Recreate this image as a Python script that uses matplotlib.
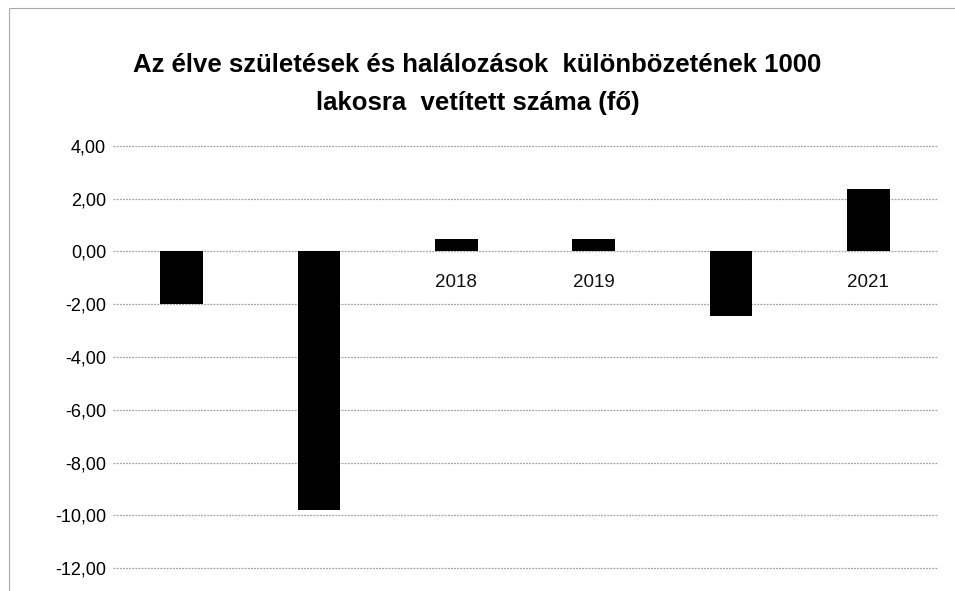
import matplotlib
matplotlib.use("Agg")
import matplotlib.pyplot as plt
from matplotlib.patches import Rectangle

years = ["2016", "2017", "2018", "2019", "2020", "2021"]
values = [-1.98, -9.8, 0.46, 0.46, -2.43, 2.35]
yticks = [4, 2, 0, -2, -4, -6, -8, -10, -12]
title = "Az élve születések és halálozások  különbözetének 1000\nlakosra  vetített száma (fő)"

fam = ["Liberation Sans", "DejaVu Sans"]

fig = plt.figure(figsize=(9.55, 5.91), dpi=100)
ax = fig.add_axes([0.1183, 0.0389, 0.8628, 0.7141])

x = list(range(len(years)))
ax.bar(x, values, width=0.31, color="black", zorder=3)
for xi, lab in zip(x, years):
    ax.text(xi, -1.18, lab, ha="center", va="center", fontsize=13.5,
            family=fam, color="#111111", zorder=1)

ax.set_xlim(-0.5, len(years) - 0.5)
ax.set_ylim(-12, 4)
ax.set_yticks(yticks)
ax.set_yticklabels([f"{v:.2f}".replace(".", ",") for v in yticks],
                   fontsize=13, family=fam)
ax.set_xticks([])
ax.tick_params(axis="y", length=0, pad=5)
for s in ax.spines.values():
    s.set_visible(False)
ax.yaxis.grid(True, color="#a0a0a0", linewidth=0.9, linestyle=(0, (1.5, 1.0)), zorder=0)
for gl in ax.yaxis.get_gridlines():
    gl.set_clip_on(False)
ax.set_axisbelow(True)

fig.text(0.5, 0.858, title, ha="center", va="center", fontsize=18.5,
         fontweight="bold", family=fam, linespacing=1.75)

fig.patches.append(Rectangle((0.009, -0.01), 1.1, 1.0 - 0.004, transform=fig.transFigure,
                             fill=False, edgecolor="#aaaaaa", linewidth=0.8))

fig.savefig("out.png", dpi=100)
